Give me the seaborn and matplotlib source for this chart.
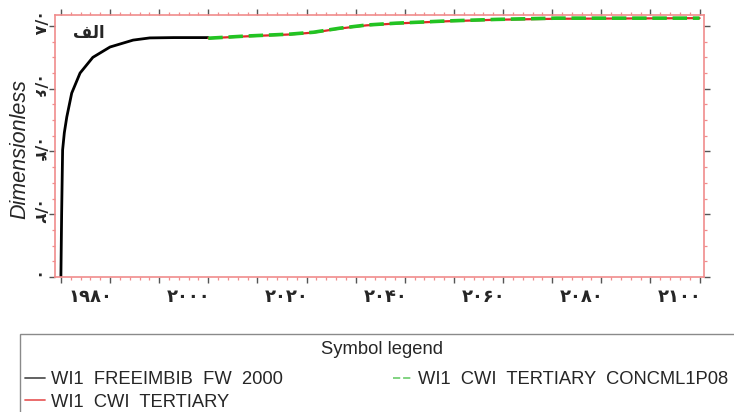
import numpy as np
import pandas as pd
import matplotlib
matplotlib.use("Agg")
import matplotlib.pyplot as plt
import seaborn as sns
from matplotlib.ticker import MultipleLocator, FixedLocator
from matplotlib.patches import Rectangle

# ---------------- data ----------------
years_fw = [1974.0, 1974.15, 1974.35, 1974.7, 1975.2, 1976.2, 1977.9, 1980.5,
            1984.0, 1988.7, 1992.1, 1997.0, 2004.0]
val_fw = [0.0, 0.20, 0.405, 0.46, 0.51, 0.586, 0.65, 0.70,
          0.733, 0.755, 0.762, 0.763, 0.763]

years_cwi = [2004.0, 2011.8, 2020.6, 2025.4, 2030.8, 2036.2, 2042.3, 2052.5,
             2062.7, 2074.9, 2090.0, 2104.0]
val_cwi = [0.761, 0.767, 0.773, 0.779, 0.792, 0.802, 0.808, 0.815,
           0.820, 0.823, 0.824, 0.825]
val_conc = [0.761, 0.768, 0.774, 0.780, 0.793, 0.803, 0.809, 0.816,
            0.821, 0.825, 0.825, 0.825]

labels_series = ["WI1  FREEIMBIB  FW  2000", "WI1  CWI  TERTIARY",
                 "WI1  CWI  TERTIARY  CONCML1P08"]

x_label_years = [1980, 2000, 2020, 2040, 2060, 2080, 2100]
x_label_text = ["۱۹۸۰", "۲۰۰۰", "۲۰۲۰", "۲۰۴۰", "۲۰۶۰", "۲۰۸۰", "۲۱۰۰"]
y_ticks = [0.0, 0.2, 0.4, 0.6, 0.8]
y_tick_text = ["۰", "۰/۲", "۰/۴", "۰/۶", "۰/۸"]

# ---------------- style ----------------
sns.set_style("ticks")
plt.rcParams["font.family"] = ["Liberation Sans", "DejaVu Sans"]

spine_col = "#f08c8c"
major_col = "#555555"

fig = plt.figure(figsize=(7.34, 4.12), dpi=100)
ax = fig.add_axes([55 / 734, 1 - 277 / 412, (704 - 55) / 734, (277 - 15) / 412])

sns.lineplot(x=years_fw, y=val_fw, ax=ax, color="black", lw=2.0,
             label=labels_series[0], estimator=None, sort=False)
sns.lineplot(x=years_cwi, y=val_cwi, ax=ax, color="#e02828", lw=1.6,
             label=labels_series[1], estimator=None, sort=False)
sns.lineplot(x=years_cwi, y=val_conc, ax=ax, color="#22c322", lw=2.6,
             label=labels_series[2], estimator=None, sort=False)
ax.lines[2].set_linestyle((0, (4, 1.6)))

ax.set_xlim(1972.8, 2104.9)
ax.set_ylim(0, 0.835)

for s in ax.spines.values():
    s.set_color(spine_col)
    s.set_linewidth(1.2)

# x ticks: marks every 10 / 2 years, labels at round years via secondary axis
ax.xaxis.set_major_locator(FixedLocator(np.arange(1974, 2105, 10)))
ax.xaxis.set_minor_locator(FixedLocator(np.arange(1974, 2105, 2)))
ax.set_xticklabels([])
ax.yaxis.set_major_locator(FixedLocator(y_ticks))
ax.yaxis.set_minor_locator(MultipleLocator(0.05))
ax.set_yticklabels(y_tick_text, rotation=270, va="center", ha="center",
                   fontsize=11.5, fontweight="bold", family=["DejaVu Sans"])

ax.tick_params(which="both", direction="out", top=True, right=True,
               bottom=True, left=True)
ax.tick_params(which="major", length=4.5, width=1.0, color=major_col)
ax.tick_params(which="minor", length=2.5, width=0.9, color=spine_col)
ax.tick_params(axis="y", which="major", pad=9)

sec = ax.secondary_xaxis("bottom")
sec.set_xticks(x_label_years)
sec.set_xticklabels(x_label_text, fontsize=13, fontweight="bold",
                    family=["DejaVu Sans"])
sec.tick_params(length=0, pad=8)
sec.spines["bottom"].set_visible(False)

ax.set_xlabel("")
ax.set_ylabel("Dimensionless", fontsize=15.5, style="italic")
ax.yaxis.set_label_coords(-25 / 649, 0.49)

# panel letter "الف" (presentation forms in visual order)
ax.text(0.027, 0.93, "\uFED2\uFEDF\uFE8D", transform=ax.transAxes,
        fontsize=12, fontweight="bold", family=["DejaVu Sans"],
        ha="left", va="center")

# legend: frame, title and entries
handles, labs = ax.get_legend_handles_labels()
ax.get_legend().remove()
fig.patches.append(Rectangle((20 / 734, -0.05), 730 / 734, 0.05 + (412 - 334) / 412,
                             transform=fig.transFigure, fill=False,
                             edgecolor="#8a8a8a", lw=1.0, zorder=5))
fig.text(382 / 734, 1 - 349 / 412, "Symbol legend", ha="center", va="center",
         fontsize=13.2)
leg = fig.legend(handles, labs, loc="center left",
                 bbox_to_anchor=(25 / 734, 1 - 391 / 412),
                 ncol=2, fontsize=13.2, frameon=False,
                 handlelength=1.1, handletextpad=0.3, labelspacing=0.28,
                 columnspacing=6.0, borderaxespad=0, borderpad=0)
for h, c in zip(leg.legend_handles, ["#555555", "#e86060", "#77d077"]):
    h.set_linewidth(1.3)
    h.set_color(c)

fig.savefig("out.png", dpi=100)
